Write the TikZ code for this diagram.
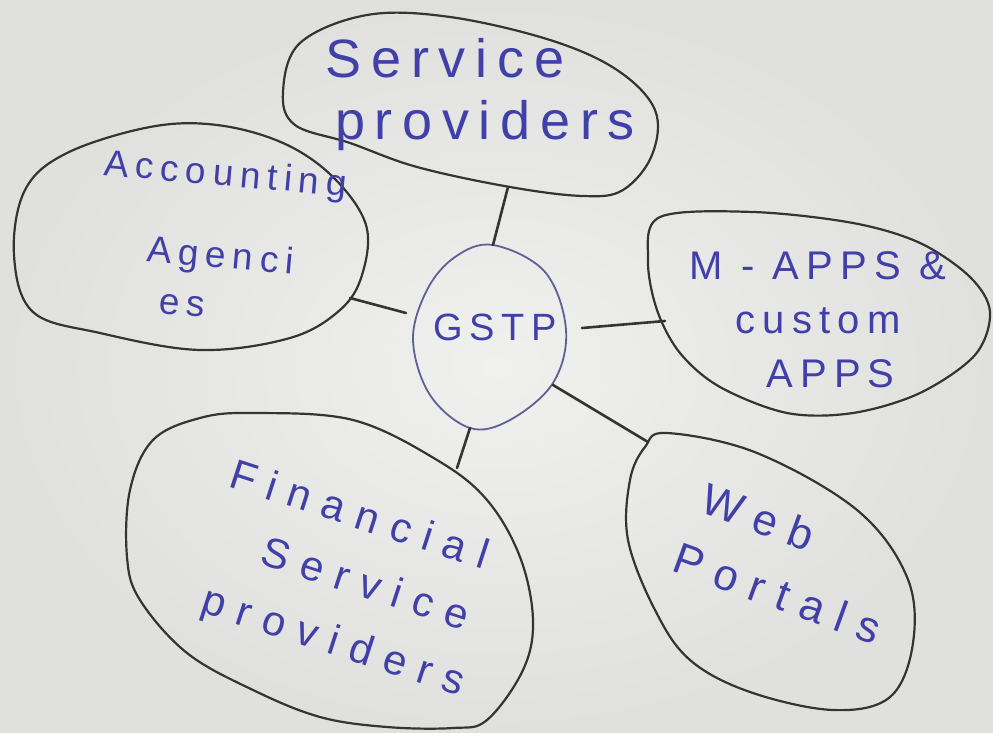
\documentclass[tikz,border=0pt]{standalone}
\usepackage{fontspec}
\newfontfamily\hand{Liberation Sans}[LetterSpace=18]
\newfontfamily\handwide{Liberation Sans}[LetterSpace=30]
\definecolor{paperlight}{RGB}{240,240,238}
\definecolor{paperdark}{RGB}{224,224,222}
\definecolor{pencil}{RGB}{52,52,52}
\definecolor{ink}{RGB}{64,64,168}
\definecolor{gsink}{RGB}{96,96,150}
\tikzset{
  blob/.style={draw=pencil, line width=2.2pt, line join=round},
  gblob/.style={draw=gsink, line width=1.8pt},
  link/.style={draw=pencil, line width=2.6pt, line cap=round},
  lbl/.style={text=ink, inner sep=0pt, align=center,
    font=\hand\fontsize{#1}{#1}\selectfont},
  lbl/.default=40
}
\begin{document}
\begin{tikzpicture}[x=1pt,y=-1pt]
\useasboundingbox (0,0) rectangle (993,733);
\shade[inner color=paperlight, outer color=paperdark] (0,0) rectangle (993,733);

% outlines of the six bubbles
\draw[blob] plot[smooth cycle, tension=0.6] coordinates {
  (283,92) (300,43) (367,15) (450,17) (550,40) (617,70) (655,110) (652,155)
  (623,190) (583,196) (510,187) (417,167) (350,143) (295,125)};
\draw[blob] plot[smooth cycle, tension=0.6] coordinates {
  (14,255) (25,190) (67,153) (150,127) (217,125) (283,143) (333,177) (366,225)
  (362,275) (340,310) (290,338) (200,350) (100,333) (33,312)};
\draw[gblob] plot[smooth cycle, tension=0.6] coordinates {
  (493,245) (545,272) (566,330) (553,383) (510,420) (470,428) (430,395)
  (413,340) (427,290) (455,257)};
\draw[blob] plot[smooth cycle, tension=0.55] coordinates {
  (660,217) (753,212) (853,223) (920,243) (970,277) (990,312) (975,355)
  (920,393) (853,413) (787,413) (720,387) (680,353) (657,310) (648,260)};
\draw[blob] plot[smooth cycle, tension=0.6] coordinates {
  (253,413) (353,420) (437,460) (487,500) (520,557) (533,620) (523,670)
  (487,720) (453,728) (387,727) (320,717) (253,690) (187,653) (140,600)
  (127,557) (130,490) (153,440) (200,418)};
\draw[blob] plot[smooth cycle, tension=0.6] coordinates {
  (667,433) (757,453) (857,510) (907,577) (913,643) (890,697) (833,710)
  (750,692) (690,660) (655,610) (628,540) (630,480) (645,447)};

% connector end points on the outlines
\coordinate (S-b) at (508,187);
\coordinate (A-r) at (350,298);
\coordinate (M-l) at (665,321);
\coordinate (W-t) at (648,442);
\coordinate (F-t) at (457,468);
\coordinate (G-t) at (493,245);
\coordinate (G-l) at (406,313);
\coordinate (G-r) at (582,328);
\coordinate (G-br) at (553,385);
\coordinate (G-b) at (470,428);

\draw[link] (S-b) -- (G-t);
\draw[link] (A-r) -- (G-l);
\draw[link] (G-r) -- (M-l);
\draw[link] (G-br) -- (W-t);
\draw[link] (G-b) -- (F-t);

% labels
\node[lbl=54, font=\hand\fontsize{54}{62}\selectfont] (svc) at (465,95)
  {Service\hspace*{40pt}\\\hspace*{40pt}providers};

\node[lbl, rotate=-5, font=\hand\fontsize{37}{66}\selectfont] (acc) at (210,238)
  {\hspace*{20pt}Accounting\\[16pt]\hspace*{24pt}Agenci\\[-15pt]es\hspace*{44pt}};

\node[lbl=38] (gstp) at (495,327) {GSTP};

\node[lbl, font=\hand\fontsize{40}{54}\selectfont] (mapps) at (818,320)
  {M - APPS \&\\custom\hspace*{20pt}\\\hspace*{25pt}APPS};

\node[lbl, rotate=-18, font=\handwide\fontsize{42}{64}\selectfont] (fin) at (353,583)
  {Financial\hspace*{30pt}\\\hspace*{24pt}Service\\providers};

\node[lbl, rotate=-20, font=\handwide\fontsize{44}{65}\selectfont] (web) at (768,555)
  {Web\hspace*{44pt}\\\hspace*{44pt}Portals};
\end{tikzpicture}
\end{document}
